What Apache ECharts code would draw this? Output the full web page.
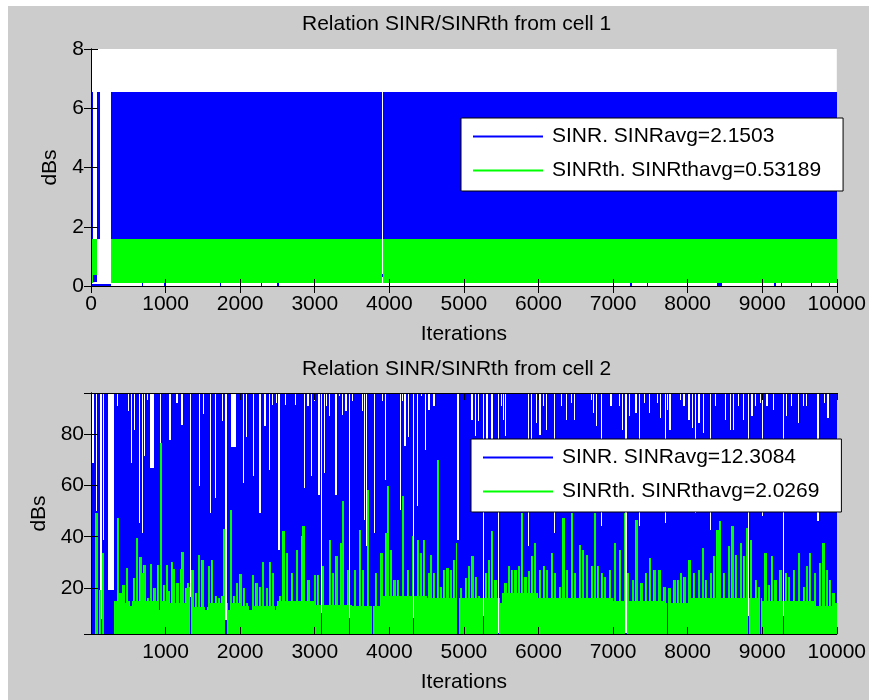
<!DOCTYPE html>
<html><head><meta charset="utf-8">
<script src="https://cdn.jsdelivr.net/npm/echarts@6/dist/echarts.min.js"></script>
<style>
html,body{margin:0;padding:0;background:#fff}
#c{width:869px;height:700px;background:#cccccc;box-shadow:inset 8px 6px 0 #ffffff}
</style>
</head><body><div id="c"></div>
<script>
// ---------- texts ----------
const title1 = 'Relation SINR/SINRth from cell 1';
const title2 = 'Relation SINR/SINRth from cell 2';
const xName = 'Iterations';
const yName = 'dBs';
const sinr1Name = 'SINR. SINRavg=2.1503';
const sinrth1Name = 'SINRth. SINRthavg=0.53189';
const sinr2Name = 'SINR. SINRavg=12.3084';
const sinrth2Name = 'SINRth. SINRthavg=2.0269';

// ---------- axes ----------
const iterMax = 10000;
const iterStep = 1000;
const y1Min = 0, y1Max = 8, y1Step = 2;
const y2Min = 2.1, y2Max = 96;

// ---------- cell 1 : [firstIter, lastIter, min dB, max dB] of the oscillating signal ----------
const sinr1Bands = [
  [0, 27, 0.1, 6.56], [27, 80, 0.15, 0.38], [80, 125, 1.58, 6.56], [0, 270, 0.0, 0.06],
  [270, 3900, 0.1, 6.56], [3900, 3918, 0.3, 0.4], [3918, 10000, 0.1, 6.56],
  [678, 698, 0, 0.1], [978, 998, 0, 0.1], [1723, 1743, 0, 0.1], [2279, 2299, 0, 0.1],
  [2497, 2517, 0, 0.1], [7228, 7248, 0, 0.1], [7455, 7475, 0, 0.1], [8390, 8460, 0, 0.1],
  [9160, 9180, 0, 0.1], [9250, 9270, 0, 0.1], [9650, 9670, 0, 0.1], [9890, 9910, 0, 0.1]
];
const sinrth1Bands = [
  [0, 27, 0.1, 1.58], [27, 80, 0.38, 1.58], [270, 3900, 0.09, 1.58], [3918, 10000, 0.09, 1.58]
];

// ---------- cell 2 ----------
// SINR: column maximum is the top of the axis except in these columns [iter, max dB, (endIter)]
const sinr2Dips = [
  [4,68.7,35],[66,50],[124,8],[160,38.8],[222,19.3,302],[346,91],[497,89],[533,68.7],[577,81.7],
  [639,45.3],[679,41.4],[706,71.3],[746,93.4],[790,66.7,843],[924,70],[1048,77.8],[1146,92],
  [1212,83.6],[1323,16.7],[1448,59.6],[1501,88],[1590,49.2],[1656,55],[1758,85],[1799,7.6],
  [1878,75,1945],[2034,60.9],[2078,79],[2167,63.5],[2256,49.2],[2323,83],[2380,66],[2425,91.4],
  [2478,92],[2513,34.9],[2602,91.4],[2735,91.4],[2855,59],[2900,91],[2944,63.5],[2989,93],
  [3046,56.4],[3078,10.3],[3122,64.8],[3144,91],[3189,86.9],[3278,56.4],[3322,95],[3366,87.5],
  [3411,88.8],[3455,8.3],[3500,93],[3633,88.8],[3655,46.6],[3677,36.2],[3788,41.4],[3810,90.8],
  [3899,92.7],[3944,62.2],[4144,50.5],[4166,92.7],[4201,75.2],[4246,79],[4313,8.3],[4366,51.8],
  [4424,95],[4477,73.9],[4521,89.5],[4588,90.8],[4913,38.8],[5099,85.6],[5144,79.1],[5188,84.9],
  [5255,9],[5299,77.8],[5321,41.4],[5366,71.3],[5455,2.5],[5499,90.8],[5521,85.6],[5544,79.1],
  [5854,36.2],[5899,77.8],[5966,84.3],[6010,79.7],[6054,90.8],[6099,81.7],[6210,41.4],[6299,90.8],
  [6365,85.6],[6432,92],[6476,85.6],[6698,93.4],[6721,88.2],[6765,83],[6832,44],[6965,90.8],
  [6987,85.6],[7076,90.8],[7120,81.7],[7165,2.5],[7209,86.9],[7298,88.2],[7343,44],[7409,92],
  [7476,88.2],[7587,92],[7631,86.2],[7698,45.3],[7720,89.5],[7756,81.7],[7898,93.4],[7942,90.8],
  [8009,85.6],[8053,82.3],[8098,49.2],[8142,84.3],[8200,80.4],[8298,42.7],[8364,90.8],[8497,85.6],
  [8564,81.7],[8608,81.7],[8675,90.8],[8742,85.6],[8808,9],[8853,86.9],[8897,90.8],[8964,92],
  [8986,47.9],[9053,90.8],[9142,89.5],[9275,9],[9319,86.9],[9386,90.8],[9475,84.3],[9541,90.8],
  [9586,90.8],[9741,46],[9830,92],[9874,86.2]
];
// SINRth: peaks [iter, max dB, (endIter)]
const sinrth2Peaks = [
  [57,49.3,88],[102,19.3,133],[146,33.8,168],[346,47.3,370],[382,18],[413,21],[438,14],[470,27.8],
  [524,13],[560,24],[604,39.6],[648,32],[680,26],[702,29],[746,16],[790,29.5],[835,20],[880,29],
  [902,11.5],[925,76.6],[968,21],[1004,29],[1035,19],[1066,30],[1102,27.5],[1146,22],[1190,27.5],
  [1212,34],[1257,20],[1288,22],[1300,20.5],[1346,27],[1390,18],[1434,33],[1479,31],[1523,11.5],
  [1568,28.5],[1612,31],[1657,17],[1701,16],[1745,17],[1776,43],[1830,11.5],[1865,50.5],[1901,17],
  [1946,22],[1990,25.6],[2034,20],[2078,14],[2123,11.5],[2158,25],[2203,22],[2256,20.5],[2292,30],
  [2345,20],[2381,30],[2425,26],[2456,11.5],[2523,17],
  [2567,42.1],[2611,33.6],[2678,25.8],[2744,34.9],[2811,40.1],[2833,44],[2900,23.2],[2989,25],
  [3033,25],[3100,28.4],[3189,38.8],[3233,25.8],[3278,32.3],[3344,37.5],[3366,53.8],[3433,27.1],
  [3522,27.1],[3588,42.7],[3633,27.1],[3699,58.3],[3810,25.8],[3877,33.6],[3944,41.4],[3966,59.6],
  [4010,34.9],[4055,23.2],[4099,23.2],[4166,55.7],[4233,27.1],[4299,40.1],[4366,38.8],[4410,33.6],
  [4455,38.8],[4521,25.8],
  [4545,33],[4589,25.8],[4633,70],[4677,20.6],[4722,27.1],[4766,27.8],[4811,27.1],[4855,31],
  [4890,37.5],[4944,20],[5010,23.9],[5055,28.4],[5099,32.3],[5144,24.5],[5188,16.8],[5277,25.8],
  [5321,31],[5366,42.1],[5410,23.2],[5477,14.2],[5544,21.9],[5588,28.4],[5632,27.1],[5677,27.1],
  [5721,28.4],[5765,49.2],[5810,24.5],[5854,26.5],[5899,32.3],[5943,37.5],[6009,27.1],[6054,28.4],
  [6098,27.1],[6165,33.6],[6210,25.8],[6276,20.6],[6321,47.3],[6365,27.1],[6432,49.2],[6476,25.8],
  [6543,36.9],[6587,34.9],[6632,33],[6698,28.4],[6743,49.2],[6787,28.4],[6832,25.8],[6876,24.5],
  [6943,27.1],[7009,37.5],[7076,34.9],[7142,49.2],[7187,25.8],[7253,23.2],[7298,46.6],[7365,21.9],
  [7431,25.8],[7476,31.7],[7542,27.1],[7609,27.1],[7676,20.6],[7742,20],[7809,23.2],[7853,23.2],
  [7898,25.8],[7942,24.5],[8009,31],[8075,25.8],[8142,27.1],[8186,35.6],[8231,23.2],[8297,25.8],
  [8342,32.3],[8386,42.7],[8422,46],[8475,25.8],[8542,36.2],[8586,44],[8631,33],[8697,37.5],
  [8742,32.3],[8786,43.4],[8830,38.8],[8897,23.2],[8940,20.6],[9030,33.6],[9075,21.3],[9119,32.3],
  [9164,23.2],[9230,27.1],[9300,25.8],[9341,24.5],[9408,27.1],[9475,33.6],[9541,20.6],[9586,28.4],
  [9630,33.6],[9697,25.8],[9763,29.7],[9808,37.5],[9852,27.1],[9897,23.2],[9941,18],[9975,14.2]
];
// SINRth: level of the dense lower mass [fromIter, dB]
const sinrth2Base = [
  [0,10],[20,2.1],[302,15],[1000,14],[1300,12.5],[1600,14],[2000,13],[2500,15],[3000,13.5],
  [3500,13],[3900,17],[4500,16],[5500,18],[6000,16],[7000,15],[7700,14],[8000,16],[9000,15],[9700,13]
];
// SINRth: columns where it drops to the floor
const sinrth2Gaps = [1323,1799,3078,3455,3766,4313,4910,5255,5455,7165,7720,8808,8964,9275];

// ---------- build column segments ----------
const COL_SINR = 18;   // width of one SINR column, in iterations
const COL_TH = 30;     // width of one SINRth spike, in iterations
function columns(events, colW, baseFn, gaps, floor, useMin) {
  const evs = events.map(e => [e[0], e[1], e.length > 2 ? e[2] : e[0] + colW]);
  const gp = gaps.map(g => [g, g + COL_SINR]);
  const cuts = new Set([0, iterMax]);
  evs.forEach(e => { cuts.add(e[0]); cuts.add(e[2]); });
  gp.forEach(g => { cuts.add(g[0]); cuts.add(g[1]); });
  baseFn.cuts.forEach(c => cuts.add(c));
  const xs = Array.from(cuts).filter(x => x >= 0 && x <= iterMax).sort((a, b) => a - b);
  const out = [];
  for (let i = 0; i < xs.length - 1; i++) {
    const a = xs[i], b = xs[i + 1], m = (a + b) / 2;
    if (gp.some(g => m >= g[0] && m < g[1])) continue;
    let v = null;
    evs.forEach(e => {
      if (m >= e[0] && m < e[2]) v = (v === null) ? e[1] : (useMin ? Math.min(v, e[1]) : Math.max(v, e[1]));
    });
    if (v === null) v = baseFn(m);
    if (v > floor) out.push([a, b, floor, v]);
  }
  return out;
}
function stepBase(steps) {
  const f = m => { let v = steps[0][1]; steps.forEach(s => { if (m >= s[0]) v = s[1]; }); return v; };
  f.cuts = steps.map(s => s[0]);
  return f;
}
function constBase(v) { const f = () => v; f.cuts = []; return f; }

const sinr2Cols = columns(sinr2Dips, COL_SINR, constBase(y2Max), [], y2Min, true);
const sinrth2Cols = columns(sinrth2Peaks, COL_TH, stepBase(sinrth2Base), sinrth2Gaps, y2Min, false);

// ---------- chart ----------
const FONT = "'Liberation Sans', Arial, Helvetica, sans-serif";
const txt = { color: '#000', fontSize: 21, fontFamily: FONT };
function renderBand(params, api) {
  const a = api.coord([api.value(0), api.value(3)]);
  const b = api.coord([api.value(1), api.value(2)]);
  const x0 = Math.round(a[0]), x1 = Math.max(Math.round(b[0]), x0 + 1);
  const y0 = Math.round(a[1]), y1 = Math.max(Math.round(b[1]), y0 + 1);
  return { type: 'rect', shape: { x: x0, y: y0, width: x1 - x0, height: y1 - y0 },
           style: { fill: api.visual('color') } };
}
function bandSeries(name, data, color, idx) {
  return { type: 'custom', name, data, xAxisIndex: idx * 2, yAxisIndex: idx * 2, clip: true,
           renderItem: renderBand, itemStyle: { color }, encode: { x: [0, 1], y: [2, 3] },
           animation: false, silent: true };
}
const plain = v => String(v);
const tickStyle = { show: true, inside: true, length: 7, lineStyle: { color: '#000', width: 1 } };
const lineStyle = { show: true, lineStyle: { color: '#000', width: 1 } };
function xAxes(gi, showMin) {
  return [
    { gridIndex: gi, type: 'value', min: 0, max: iterMax, interval: iterStep, position: 'bottom', z: 10,
      axisLine: lineStyle, axisTick: tickStyle, splitLine: { show: false },
      axisLabel: Object.assign({ margin: 8, showMinLabel: showMin, formatter: plain }, txt),
      name: xName, nameLocation: 'middle', nameGap: 38, nameTextStyle: txt },
    { gridIndex: gi, type: 'value', min: 0, max: iterMax, interval: iterStep, position: 'top', z: 10,
      axisLine: lineStyle, axisTick: tickStyle, splitLine: { show: false }, axisLabel: { show: false } }
  ];
}
function yAxes(gi, opt) {
  return [
    Object.assign({ gridIndex: gi, type: 'value', position: 'left', z: 10,
      axisLine: lineStyle, axisTick: tickStyle, splitLine: { show: false },
      axisLabel: Object.assign({ margin: 7, showMinLabel: opt.showMin, showMaxLabel: opt.showMax, formatter: plain }, txt),
      name: yName, nameLocation: 'middle', nameGap: 30, nameTextStyle: txt }, opt.scale),
    Object.assign({ gridIndex: gi, type: 'value', position: 'right', z: 10,
      axisLine: lineStyle, axisTick: tickStyle, splitLine: { show: false }, axisLabel: { show: false } }, opt.scale)
  ];
}
function legendOf(names, left, top) {
  return { data: names, left, top, orient: 'vertical', backgroundColor: '#fff', borderColor: '#000',
           borderWidth: 1, borderRadius: 0, padding: [8, 22, 10, 12], itemGap: 13, itemWidth: 70, itemHeight: 2,
           icon: 'rect', selectedMode: false,
           textStyle: Object.assign({ padding: [0, 0, 0, 4] }, txt) };
}

const chart = echarts.init(document.getElementById('c'), null, { renderer: 'canvas' });
chart.setOption({
  backgroundColor: 'transparent',
  animation: false,
  title: [
    { text: title1, left: 302, top: 14, padding: 0, textStyle: Object.assign({ fontWeight: 'normal' }, txt) },
    { text: title2, left: 302, top: 359, padding: 0, textStyle: Object.assign({ fontWeight: 'normal' }, txt) }
  ],
  grid: [
    { left: 91, top: 49, width: 750, height: 237, show: true, backgroundColor: '#fff', borderWidth: 0, containLabel: false },
    { left: 91, top: 393, width: 750, height: 241, show: true, backgroundColor: '#fff', borderWidth: 0, containLabel: false }
  ],
  xAxis: xAxes(0, true).concat(xAxes(1, false)),
  yAxis: yAxes(0, { showMin: true, showMax: true, scale: { min: y1Min, max: y1Max, interval: y1Step } })
    .concat(yAxes(1, { showMin: false, showMax: false, scale: { min: y2Min, max: y2Max, splitNumber: 5 } })),
  legend: [
    legendOf([sinr1Name, sinrth1Name], 461, 118),
    legendOf([sinr2Name, sinrth2Name], 471, 439)
  ],
  series: [
    bandSeries(sinr1Name, sinr1Bands, '#0000ff', 0),
    bandSeries(sinrth1Name, sinrth1Bands, '#00ff00', 0),
    bandSeries(sinr2Name, sinr2Cols, '#0000ff', 1),
    bandSeries(sinrth2Name, sinrth2Cols, '#00ff00', 1)
  ]
});
</script></body></html>
